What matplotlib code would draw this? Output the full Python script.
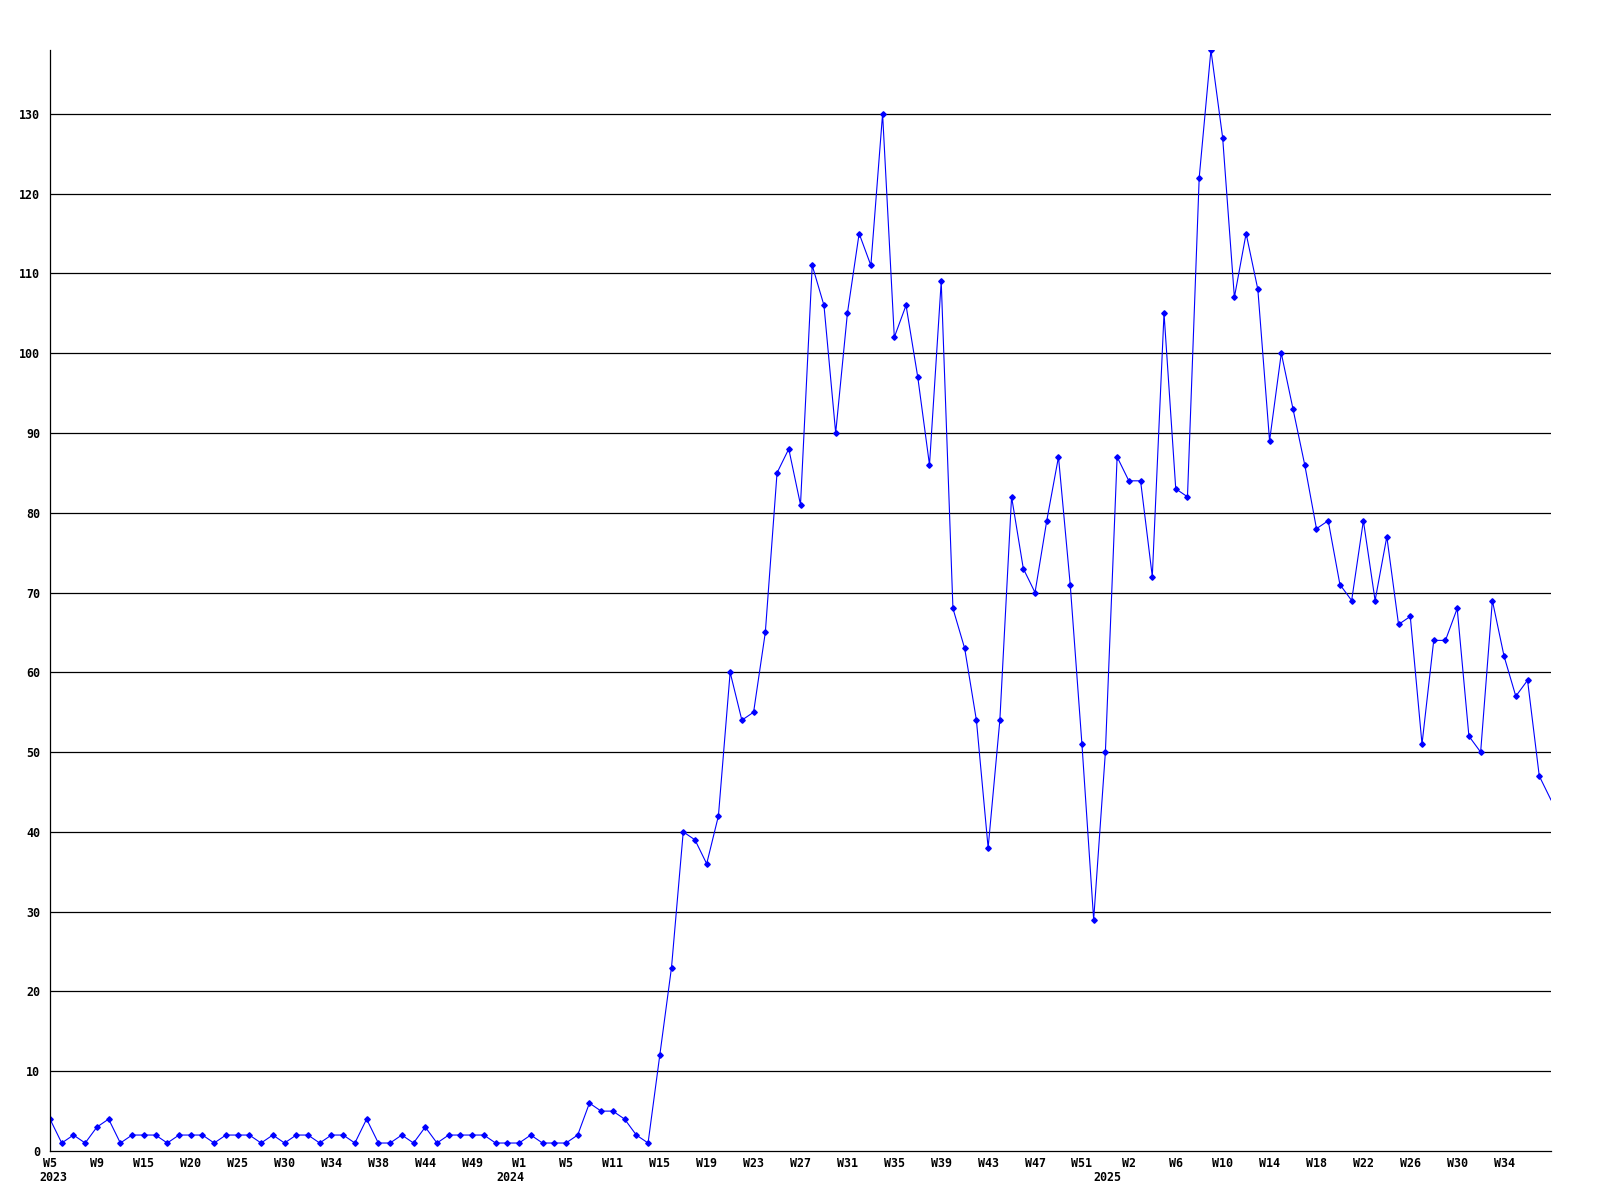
import matplotlib
matplotlib.use('Agg')
import matplotlib.pyplot as plt

# weekly counts, first point is 2023 W5
counts = [4, 1, 2, 1, 3, 4, 1, 2, 2, 2, 1, 2, 2, 2, 1, 2, 2, 2, 1, 2,
          1, 2, 2, 1, 2, 2, 1, 4, 1, 1, 2, 1, 3, 1, 2, 2, 2, 2, 1, 1,
          1, 2, 1, 1, 1, 2, 6, 5, 5, 4, 2, 1, 12, 23, 40, 39, 36, 42, 60, 54,
          55, 65, 85, 88, 81, 111, 106, 90, 105, 115, 111, 130, 102, 106, 97, 86, 109, 68, 63, 54,
          38, 54, 82, 73, 70, 79, 87, 71, 51, 29, 50, 87, 84, 84, 72, 105, 83, 82, 122, 138,
          127, 107, 115, 108, 89, 100, 93, 86, 78, 79, 71, 69, 79, 69, 77, 66, 67, 51, 64, 64,
          68, 52, 50, 69, 62, 57, 59, 47, 44]

week_labels = ['W5', 'W9', 'W15', 'W20', 'W25', 'W30', 'W34', 'W38', 'W44', 'W49',
               'W1', 'W5', 'W11', 'W15', 'W19', 'W23', 'W27', 'W31', 'W35', 'W39',
               'W43', 'W47', 'W51', 'W2', 'W6', 'W10', 'W14', 'W18', 'W22', 'W26',
               'W30', 'W34']
years = ['2023', '2024', '2025']
year_pos = [0.3, 39.3, 90.2]

font = dict(family='DejaVu Sans Mono', weight='bold', size=8.4)

fig = plt.figure(figsize=(16, 12), dpi=100)
ax = fig.add_axes([50/1600, 1 - 1151/1200, 1501/1600, 1101/1200])

x = list(range(len(counts)))
ax.plot(x, counts, color='#0000ff', lw=0.8, marker='D', ms=2.8,
        markevery=list(range(len(counts) - 1)))

ax.set_xlim(0, len(counts) - 1)
ax.set_ylim(0, 138)

for v in range(10, 140, 10):
    ax.axhline(v, color='black', lw=0.9, zorder=0)

ax.set_yticks(range(0, 140, 10))
ax.set_yticklabels([str(v) for v in range(0, 140, 10)], **font)
ax.set_xticks([i * 4 for i in range(len(week_labels))])
ax.set_xticklabels(week_labels, **font)
ax.tick_params(axis='both', length=0)
ax.tick_params(axis='y', pad=7)
ax.tick_params(axis='x', pad=4)
for lbl in ax.get_xticklabels():
    lbl.set_x(lbl.get_position()[0])

for yr, p in zip(years, year_pos):
    ax.annotate(yr, xy=(p, 0), xycoords=('data', 'axes fraction'),
                xytext=(0, -20), textcoords='offset pixels',
                ha='center', va='top', **font)

for s in ['top', 'right']:
    ax.spines[s].set_visible(False)
ax.spines['left'].set_linewidth(0.9)
ax.spines['bottom'].set_linewidth(0.9)

fig.savefig('out.png', dpi=100, facecolor='white')
